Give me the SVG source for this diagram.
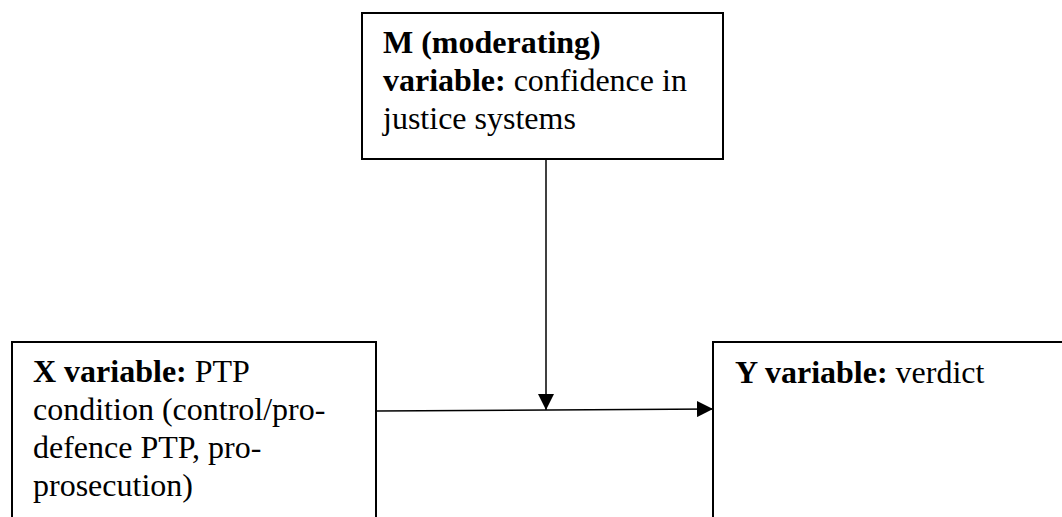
<svg xmlns="http://www.w3.org/2000/svg" width="1062" height="517" viewBox="0 0 1062 517">
  <style>
    .box { fill: #ffffff; stroke: #000000; stroke-width: 2; }
    .t { font-family: "Liberation Serif", "Times New Roman", serif; font-size: 32px; fill: #000000; }
    .b { font-weight: bold; }
    .conn { stroke: #000000; stroke-width: 1.5; fill: none; }
  </style>
  <defs>
    <marker id="arrow" markerUnits="userSpaceOnUse" markerWidth="16" markerHeight="16" refX="16" refY="8" orient="auto">
      <path d="M0,0 L16,8 L0,16 Z" fill="#000000"/>
    </marker>
  </defs>
  <rect width="1062" height="517" fill="#ffffff"/>
  <g id="node-m">
    <rect class="box" x="362" y="13" width="361" height="146"/>
    <text class="t" x="383" y="53"><tspan class="b">M (moderating)</tspan></text>
    <text class="t" x="383" y="91"><tspan class="b">variable:</tspan> confidence in</text>
    <text class="t" x="383" y="129">justice systems</text>
  </g>
  <g id="node-x">
    <rect class="box" x="12" y="342" width="364" height="200"/>
    <text class="t" x="33" y="382"><tspan class="b">X variable:</tspan> PTP</text>
    <text class="t" x="33" y="420">condition (control/pro-</text>
    <text class="t" x="33" y="458">defence PTP, pro-</text>
    <text class="t" x="33" y="496">prosecution)</text>
  </g>
  <g id="node-y">
    <rect class="box" x="713" y="342" width="370" height="200"/>
    <text class="t" x="735" y="383"><tspan class="b">Y variable:</tspan> verdict</text>
  </g>
  <g id="connectors">
    <line class="conn" x1="377" y1="411" x2="713" y2="409" marker-end="url(#arrow)"/>
    <line class="conn" x1="546" y1="160" x2="546" y2="410" marker-end="url(#arrow)"/>
  </g>
</svg>
